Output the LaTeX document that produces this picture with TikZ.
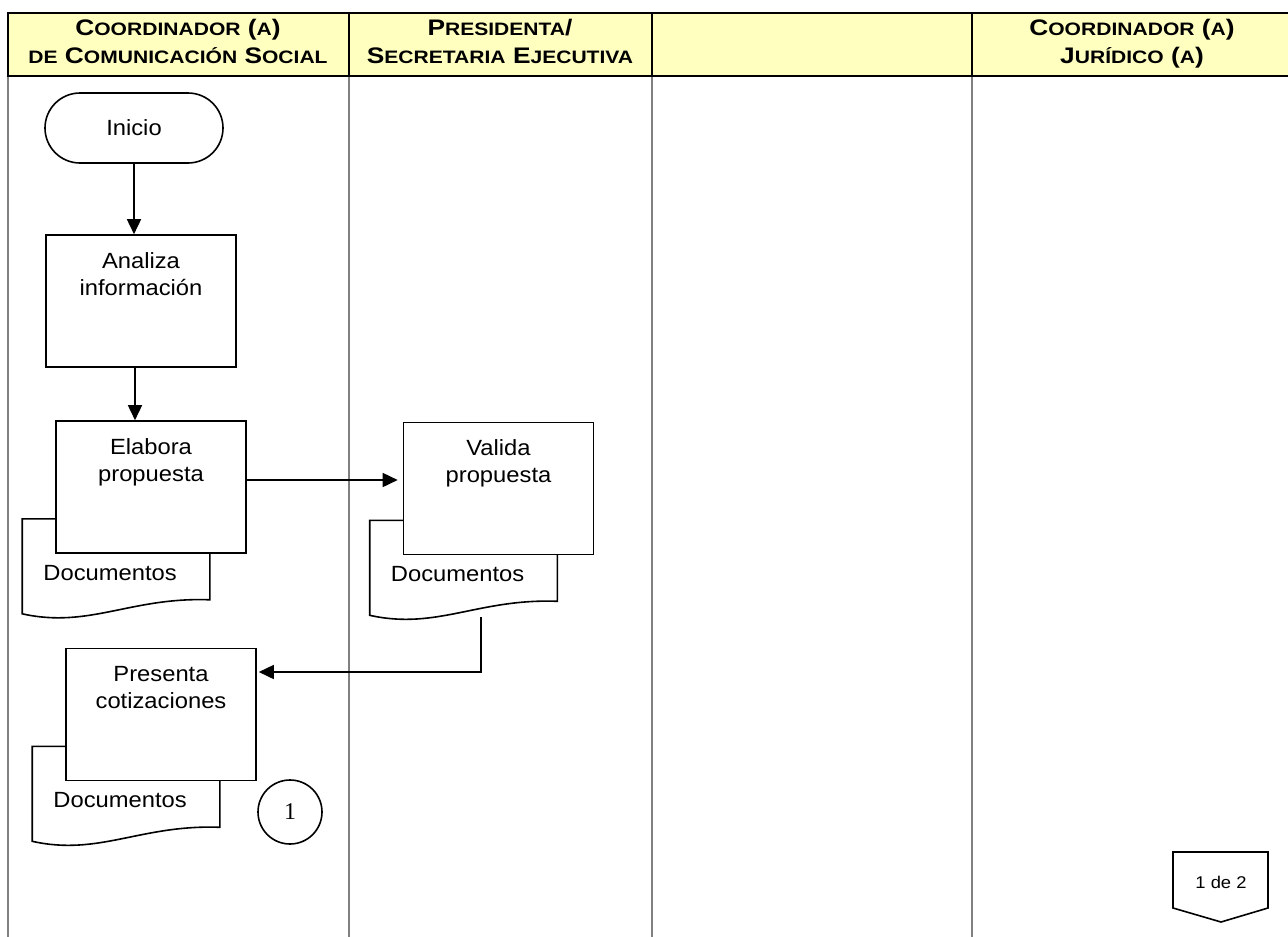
\documentclass[tikz,border=0pt]{standalone}
\usepackage{fontspec}
\setmainfont{Liberation Sans}[FakeStretch=1.08]
\newfontfamily\hdrfont{Liberation Sans}[FakeStretch=1.17]
\newfontfamily\numfont{Liberation Serif}
\usetikzlibrary{arrows.meta,calc,backgrounds}
\definecolor{hdrfill}{HTML}{FFFFC0}
\definecolor{lanegray}{HTML}{808080}
% fake small caps for the lane titles
\newcommand\hsml[1]{{\fontsize{18}{20}\selectfont #1}}
% document symbol drawn behind a process box
\newcommand\docbehind[1]{%
  \begin{scope}[on background layer]
    \path[docline] ($(#1.south west)+(-33,-35)$) -- ($(#1.south east)+(-37,-35)$)
      -- ($(#1.south east)+(-37,46)$)
      .. controls ($(#1.south east)+(-116,43)$) and ($(#1.south west)+(34,75)$)
      .. ($(#1.south west)+(-33,60)$) -- cycle;
  \end{scope}}
\begin{document}
\begin{tikzpicture}[x=1pt,y=-1pt,
  lane/.style={draw=lanegray,line width=1.6pt},
  hdrline/.style={draw=black,line width=2.5pt},
  hdrtext/.style={font=\hdrfont\bfseries\fontsize{22.5}{24}\selectfont, anchor=base, inner sep=0pt},
  term/.style={draw,line width=1.6pt,fill=white,rounded corners=35pt,minimum width=178pt,minimum height=70pt,font=\fontsize{22}{27}\selectfont},
  proc/.style={draw,line width=1.6pt,fill=white,minimum width=190pt,minimum height=132pt,inner sep=0pt},
  proctext/.style={anchor=north,align=center,inner sep=0pt,font=\fontsize{22}{27}\selectfont},
  doclabel/.style={anchor=west,inner sep=0pt,font=\fontsize{22}{27}\selectfont},
  docline/.style={draw,line width=1.6pt,fill=white},
  arr/.style={line width=1.6pt,-{Triangle[length=15pt,width=14pt]}},
  link/.style={draw,line width=1.6pt,circle,minimum size=64pt,inner sep=0pt,font=\numfont\fontsize{24}{24}\selectfont},
  pagetext/.style={inner sep=0pt,font=\fontsize{17}{17}\selectfont},
  ]
\useasboundingbox (0,0) rectangle (1288,937);

% lane header band
\fill[hdrfill] (8,13) rectangle (1300,76);
% lane separators
\foreach \x in {8,349,652,972} \draw[lane] (\x,76) -- (\x,937);
\foreach \x in {8,349,652,972} \draw[hdrline] (\x,13) -- (\x,76);
\draw[hdrline] (6.75,13) -- (1300,13);
\draw[hdrline] (6.75,76) -- (1300,76);

% lane titles
\node[hdrtext] (h1a) at (178,35) {C\hsml{OORDINADOR} (\hsml{A})};
\node[hdrtext] (h1b) at (178,63) {\hsml{DE} C\hsml{OMUNICACIÓN} S\hsml{OCIAL}};
\node[hdrtext] (h2a) at (500,35) {P\hsml{RESIDENTA}/};
\node[hdrtext] (h2b) at (500,63) {S\hsml{ECRETARIA} E\hsml{JECUTIVA}};
\node[hdrtext] (h4a) at (1132,35) {C\hsml{OORDINADOR} (\hsml{A})};
\node[hdrtext] (h4b) at (1132,63) {J\hsml{URÍDICO} (\hsml{A})};

% flow
\node[term] (inicio) at (134,128) {Inicio};

\node[proc] (analiza) at (141,301) {};
\node[proctext] (analizaT) at ([yshift=-18pt]analiza.north) {Analiza\\información};

\node[proc] (elabora) at (151,487) {};
\node[proctext] (elaboraT) at ([yshift=-18pt]elabora.north) {Elabora\\propuesta};
\docbehind{elabora}
\node[doclabel] (elaboraD) at ($(elabora.south west)+(-12,19)$) {Documentos};

\node[proc] (valida) at (498.5,488.5) {};
\node[proctext] (validaT) at ([yshift=-18pt]valida.north) {Valida\\propuesta};
\docbehind{valida}
\node[doclabel] (validaD) at ($(valida.south west)+(-12,19)$) {Documentos};

\node[proc] (presenta) at (161,714.5) {};
\node[proctext] (presentaT) at ([yshift=-18pt]presenta.north) {Presenta\\cotizaciones};
\docbehind{presenta}
\node[doclabel] (presentaD) at ($(presenta.south west)+(-12,19)$) {Documentos};

\node[link] (c1) at (290,812) {1};

% off-page connector
\node[pagetext] (pg) at (1221,882) {1 de 2};
\draw[line width=1.6pt] ($(pg)+(-48,-30)$) -- ($(pg)+(47,-30)$) -- ($(pg)+(47,26)$)
  -- ($(pg)+(0,40)$) -- ($(pg)+(-48,26)$) -- cycle;

% connectors
\draw[arr] (inicio.south) -- (inicio.south |- analiza.north);
\draw[arr] ([xshift=-6pt]analiza.south) -- ([xshift=-6pt]analiza.south |- elabora.north);
\draw[arr,shorten >=5pt] ([yshift=7pt]elabora.east) -- ([yshift=7pt]elabora.east -| valida.west);
\coordinate (vdocout) at ($(valida.south west)+(78,62)$);
\draw[arr,shorten >=2pt] (vdocout) |- ([yshift=42.5pt]presenta.east);
\end{tikzpicture}
\end{document}
